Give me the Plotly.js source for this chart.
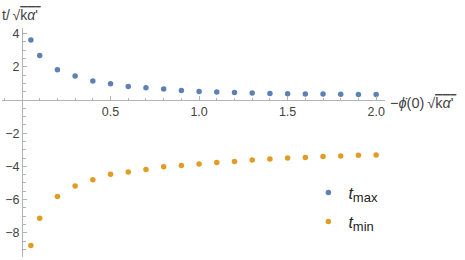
<!DOCTYPE html>
<html>
<head>
<meta charset="utf-8">
<script src="https://cdn.plot.ly/plotly-3.0.1.min.js"></script>
<style>html,body{margin:0;padding:0;background:#fff;}#chart{width:465px;height:260px;}</style>
</head>
<body>
<div id="chart"></div>
<script>
// Data
var xValues = [0.05, 0.1, 0.2, 0.3, 0.4, 0.5, 0.6, 0.7, 0.8, 0.9, 1.0, 1.1, 1.2, 1.3, 1.4, 1.5, 1.6, 1.7, 1.8, 1.9, 2.0];
var tMax = [3.61, 2.69, 1.83, 1.45, 1.14, 0.98, 0.82, 0.74, 0.66, 0.58, 0.52, 0.48, 0.45, 0.42, 0.40, 0.38, 0.37, 0.36, 0.35, 0.34, 0.33];
var tMin = [-8.77, -7.13, -5.82, -5.18, -4.80, -4.48, -4.34, -4.18, -4.02, -3.94, -3.86, -3.76, -3.70, -3.62, -3.55, -3.50, -3.46, -3.41, -3.38, -3.33, -3.31];
var xTickVals = [0.5, 1.0, 1.5, 2.0];
var xTickText = ["0.5", "1.0", "1.5", "2.0"];
var yTickVals = [-8, -6, -4, -2, 2, 4];
var yTickText = ["\u22128", "\u22126", "\u22124", "\u22122", "2", "4"];
var seriesNames = [
  "<i>t</i><sub><span style=\"font-size:13px\">max</span></sub>",
  "<i>t</i><sub><span style=\"font-size:13px\">min</span></sub>"
];

var xRange = [-0.113, 2.05];
var yRange = [-9.46, 4.34];
var axisColor = "#b3b3b3";
var textColor = "#444444";
var font = "Liberation Sans, Arial, sans-serif";

var traces = [
  {x: xValues, y: tMax, type: "scatter", mode: "markers", name: seriesNames[0], legendgroup: "a",
   marker: {color: "#5e81b5", size: 5.5}},
  {x: xValues, y: tMin, type: "scatter", mode: "markers", name: seriesNames[1], legendgroup: "b",
   marker: {color: "#e19c24", size: 5.5}}
];

var layout = {
  width: 465, height: 260,
  margin: {l: 2, r: 80, t: 28, b: 3, pad: 0},
  paper_bgcolor: "#fff", plot_bgcolor: "#fff",
  font: {family: font, size: 12.5, color: textColor},
  showlegend: true,
  legend: {x: 0.80, y: 0.355, xanchor: "left", yanchor: "top", font: {size: 16, color: "#222"},
           tracegroupgap: 5, itemwidth: 30, bgcolor: "rgba(0,0,0,0)"},
  xaxis: {
    range: xRange, anchor: "free", position: (0 - yRange[0]) / (yRange[1] - yRange[0]),
    showgrid: false, zeroline: false, showline: true, linecolor: axisColor, linewidth: 1,
    tickmode: "array", tickvals: xTickVals, ticktext: xTickText,
    ticks: "inside", ticklen: 4, tickcolor: axisColor, tickwidth: 1,
    minor: {tickmode: "linear", tick0: 0, dtick: 0.1, ticks: "inside", ticklen: 2.5, tickcolor: axisColor, showgrid: false},
    tickfont: {size: 12.5, color: textColor}, fixedrange: true
  },
  yaxis: {
    range: yRange, anchor: "free", position: (0 - xRange[0]) / (xRange[1] - xRange[0]),
    showgrid: false, zeroline: false, showline: true, linecolor: axisColor, linewidth: 1,
    tickmode: "array", tickvals: yTickVals, ticktext: yTickText,
    ticks: "inside", ticklen: 4, tickcolor: axisColor, tickwidth: 1,
    minor: {tickmode: "linear", tick0: 0, dtick: 0.5, ticks: "inside", ticklen: 2.5, tickcolor: axisColor, showgrid: false},
    tickfont: {size: 12.5, color: textColor}, fixedrange: true
  },
  annotations: [
    {xref: "paper", yref: "paper", x: -0.005, y: 1, xanchor: "left", yanchor: "bottom", yshift: 3,
     showarrow: false, font: {size: 14, color: textColor},
     text: "t/\u2009\u221A<span style=\"text-decoration:overline\">k<i>\u03B1</i>'\u2009</span>"},
    {xref: "paper", yref: "paper", x: 1, y: (0 - yRange[0]) / (yRange[1] - yRange[0]), xanchor: "left", yanchor: "middle",
     xshift: 3, yshift: -3, showarrow: false, font: {size: 14.5, color: textColor},
     text: "\u2212<i>\u03D5\u0307</i>(0)\u2009\u221A<span style=\"text-decoration:overline\">k<i>\u03B1</i>'\u2009</span>"}
  ]
};

Plotly.newPlot("chart", traces, layout, {staticPlot: true, displayModeBar: false});
</script>
</body>
</html>
